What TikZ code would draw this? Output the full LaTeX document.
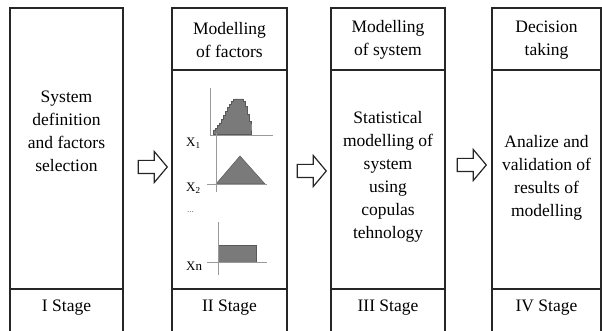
\documentclass[tikz,border=0pt]{standalone}
\usepackage{fontspec}
\setmainfont{Liberation Serif}
\usetikzlibrary{shapes.arrows,positioning}

\begin{document}
\begin{tikzpicture}[
  x=1pt, y=-1pt,
  every node/.style={font=\fontsize{17.5}{23}\selectfont, align=center, inner sep=0pt},
  frame/.style={draw=black!85, line width=1.3pt},
  stagearrow/.style={shape=single arrow, draw=black!85, line width=1.2pt,
    fill=white, inner xsep=0pt, inner ysep=6pt, minimum height=29pt,
    single arrow head extend=9pt, single arrow tip angle=100},
  axisline/.style={draw=black!40, line width=0.9pt},
  distfill/.style={fill=black!52, draw=black!65, line width=0.5pt},
  xlabel/.style={font=\fontsize{13}{14}\selectfont, anchor=west},
]
\useasboundingbox (0,0) rectangle (602,331);

% ============================================================
% COLUMNS (open at the bottom)
% ============================================================
\foreach \l/\r in {10/123, 172/287, 331/445, 492/601}{
  \draw[frame] (\l,331) -- (\l,8) -- (\r,8) -- (\r,331);
  \draw[frame] (\l,289) -- (\r,289);
}
% header dividers
\foreach \l/\r in {172/287, 331/445, 492/601}{
  \draw[frame] (\l,70) -- (\r,70);
}

% ============================================================
% TEXTS
% ============================================================
\node (defsel) at (66.5,131) {System\\definition\\and factors\\selection};
\node (stageI) at (66.5,308) {I Stage};

\node (headfac) at (229.5,40) {Modelling\\of factors};
\node (stageII) at (229.5,308) {II Stage};

\node (headsys) at (388,40) {Modelling\\of system};
\node (statmod) at (388,177)
  {Statistical\\modelling of\\system\\using\\copulas\\tehnology};
\node (stageIII) at (388,308) {III Stage};

\node (headdec) at (546.5,40) {Decision\\taking};
\node (analyze) at (546.5,178)
  {Analize and\\validation of\\results of\\modelling};
\node (stageIV) at (546.5,308) {IV Stage};

% ============================================================
% ARROWS BETWEEN STAGES
% ============================================================
\node[stagearrow] (arrowI)   at (150,167) {};
\node[stagearrow] (arrowII)  at (309,171) {};
\node[stagearrow] (arrowIII) at (469,165) {};

% ============================================================
% FACTOR DISTRIBUTIONS
% ============================================================
% X1: skewed bell (stepped)
\filldraw[distfill] (213,134)
  -- plot[const plot, domain=213:251, samples=20]
     (\x,{134-35*exp(-(max(0,abs(\x-238)-3)/(\x<238?15:8))^2)})
  -- (251,134) -- cycle;
\draw[axisline] (210,88) -- (210,135) -- (273,135);
\node[xlabel] (xone) at (186,143) {X\textsubscript{1}};

% X2: triangle
\filldraw[distfill] (216,184) -- (240,156) -- (265,184) -- cycle;
\draw[axisline] (216,133) -- (216,192);
\draw[axisline] (207,184) -- (267,184);
\node[xlabel] (xtwo) at (186,188) {X\textsubscript{2}};

\node[xlabel, font=\fontsize{9}{10}\selectfont, text=black!60] (xdots) at (187,212) {...};

% Xn: uniform
\filldraw[distfill] (218,245) rectangle (256,262);
\draw[axisline] (218,222) -- (218,275);
\draw[axisline] (207,262) -- (267,262);
\node[xlabel] (xn) at (186,266) {Xn};

\end{tikzpicture}
\end{document}
